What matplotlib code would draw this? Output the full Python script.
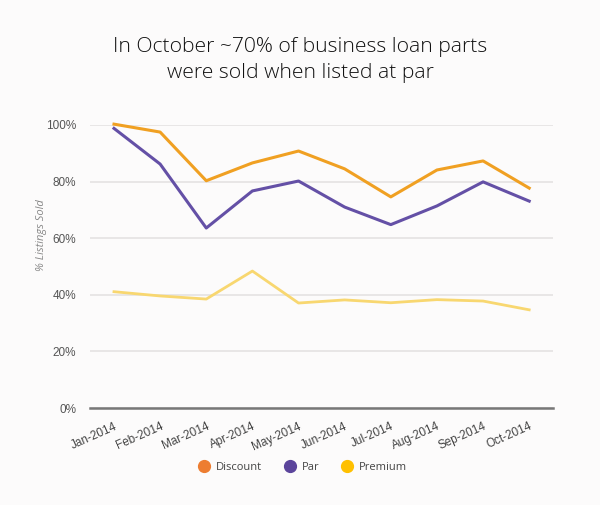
import matplotlib.pyplot as plt
from matplotlib.lines import Line2D

months = ['Jan-2014', 'Feb-2014', 'Mar-2014', 'Apr-2014', 'May-2014',
          'Jun-2014', 'Jul-2014', 'Aug-2014', 'Sep-2014', 'Oct-2014']
discount = [100.3, 97.5, 80.3, 86.6, 90.8, 84.5, 74.6, 84.1, 87.3, 77.7]
par = [98.8, 86.2, 63.6, 76.7, 80.2, 71.0, 64.8, 71.4, 79.9, 73.1]
premium = [41.1, 39.6, 38.5, 48.4, 37.1, 38.2, 37.2, 38.3, 37.8, 34.7]

bg = '#fcfbfb'
fig = plt.figure(figsize=(6, 5.05), dpi=100, facecolor=bg)
ax = fig.add_axes([0.15, 0.192, 0.772, 0.5605], facecolor=bg)

x = list(range(len(months)))
ax.plot(x, discount, color='#f0a022', lw=2.2, clip_on=False, zorder=3)
ax.plot(x, par, color='#6450a6', lw=2.2, clip_on=False, zorder=3)
ax.plot(x, premium, color='#f8d770', lw=2.0, clip_on=False, zorder=3)

ax.set_xlim(-0.52, 9.52)
ax.set_ylim(0, 100)
ax.set_yticks([0, 20, 40, 60, 80, 100])
ax.set_yticklabels(['0%', '20%', '40%', '60%', '80%', '100%'],
                   fontfamily='Liberation Sans')
ax.grid(axis='y', color='#e4e2e2', lw=1.2)
ax.set_axisbelow(True)
for s in ['top', 'right', 'left']:
    ax.spines[s].set_visible(False)
ax.spines['bottom'].set_color('#777777')
ax.spines['bottom'].set_linewidth(1.8)
ax.tick_params(length=0, colors='#555555', labelsize=8.5)
ax.tick_params(axis='y', pad=10)
ax.set_xticks(x)
ax.set_xticklabels(months, rotation=24, ha='right', rotation_mode='anchor',
                   fontsize=8.5, color='#444444', fontfamily='Liberation Sans')
ax.tick_params(axis='x', pad=9)

ax.set_ylabel('% Listings Sold', style='italic', color='#888888', fontsize=8,
              fontfamily='Open Sans')
ax.yaxis.set_label_coords(-0.093, 0.61)

fig.text(0.5, 0.881, 'In October ~70% of business loan parts\nwere sold when listed at par',
         ha='center', va='center', fontsize=15.2, fontfamily='Open Sans',
         fontweight='light', color='#111111', linespacing=1.4)

handles = [Line2D([], [], ls='', marker='o', ms=8.5, color=c)
           for c in ['#ed7d31', '#5b449b', '#ffc000']]
fig.legend(handles, ['Discount', 'Par', 'Premium'], loc='center',
           bbox_to_anchor=(0.5, 0.075), ncol=3, frameon=False,
           handletextpad=0.05, columnspacing=1.5,
           prop={'family': 'Open Sans', 'size': 8}, labelcolor='#444444')

fig.savefig('out.png', dpi=100, facecolor=bg)
